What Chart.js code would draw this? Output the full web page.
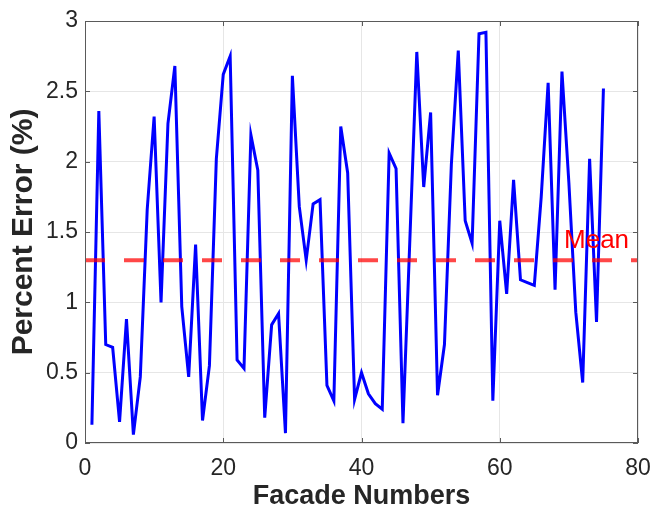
<!DOCTYPE html>
<html>
<head>
<meta charset="utf-8">
<script src="https://cdn.jsdelivr.net/npm/chart.js@4/dist/chart.umd.min.js"></script>
<style>
  html, body { margin: 0; padding: 0; background: #fff; }
  canvas { display: block; }
</style>
</head>
<body>
<canvas id="grafico" width="654" height="513"></canvas>
<script>
const facadeNumbers = [
  1, 2, 3, 4, 5, 6, 7, 8, 9, 10, 11, 12, 13, 14, 15, 16, 17, 18, 19, 20,
  21, 22, 23, 24, 25, 26, 27, 28, 29, 30, 31, 32, 33, 34, 35, 36, 37, 38, 39, 40,
  41, 42, 43, 44, 45, 46, 47, 48, 49, 50, 51, 52, 53, 54, 55, 56, 57, 58, 59, 60,
  61, 62, 63, 64, 65, 66, 67, 68, 69, 70, 71, 72, 73, 74, 75,
];
const percentError = [
  0.13, 2.36, 0.70, 0.68, 0.15, 0.88, 0.06, 0.47, 1.66, 2.32,
  1.00, 2.27, 2.68, 0.97, 0.47, 1.41, 0.16, 0.55, 2.02, 2.62,
  2.75, 0.59, 0.53, 2.19, 1.94, 0.18, 0.84, 0.92, 0.07, 2.61,
  1.68, 1.30, 1.70, 1.73, 0.41, 0.30, 2.25, 1.92, 0.31, 0.50,
  0.35, 0.28, 0.24, 2.06, 1.95, 0.14, 1.45, 2.78, 1.82, 2.35,
  0.34, 0.70, 1.98, 2.79, 1.58, 1.42, 2.91, 2.92, 0.30, 1.58,
  1.06, 1.87, 1.16, 1.14, 1.12, 1.75, 2.56, 1.09, 2.64, 1.85,
  0.93, 0.43, 2.02, 0.86, 2.52,
];
const meanError = 1.3;
const meanRange = [0, 80];
const meanLabel = "Mean";
const meanLabelAt = [69.3, 1.44];
const xTicks = [0, 20, 40, 60, 80];
const yTicks = [0, 0.5, 1, 1.5, 2, 2.5, 3];

const colorTexto = "#262626";

// caja de ejes con marcas hacia dentro, como en MATLAB
const marcoEjes = {
  id: "marcoEjes",
  afterDatasetsDraw(chart) {
    const { ctx, chartArea: a, scales } = chart;
    ctx.save();
    ctx.strokeStyle = "#5a5a5a";
    ctx.lineWidth = 1;
    ctx.strokeRect(a.left + 0.5, a.top + 0.5, a.right - a.left - 1, a.bottom - a.top - 1);
    ctx.beginPath();
    xTicks.forEach(v => {
      const px = Math.round(scales.x.getPixelForValue(v)) + 0.5;
      ctx.moveTo(px, a.bottom);
      ctx.lineTo(px, a.bottom - 5);
      ctx.moveTo(px, a.top);
      ctx.lineTo(px, a.top + 5);
    });
    yTicks.forEach(v => {
      const py = Math.round(scales.y.getPixelForValue(v)) + 0.5;
      ctx.moveTo(a.left, py);
      ctx.lineTo(a.left + 5, py);
      ctx.moveTo(a.right, py);
      ctx.lineTo(a.right - 5, py);
    });
    ctx.stroke();

    ctx.fillStyle = "#ff0000";
    ctx.font = "26px 'Liberation Sans', Arial, sans-serif";
    ctx.textAlign = "left";
    ctx.textBaseline = "middle";
    ctx.fillText(
      meanLabel,
      scales.x.getPixelForValue(meanLabelAt[0]),
      scales.y.getPixelForValue(meanLabelAt[1])
    );
    ctx.restore();
  },
};

function createChart() {
  Chart.defaults.font.family = "'Liberation Sans', Arial, sans-serif";
  Chart.defaults.color = colorTexto;

  const ctx = document.getElementById("grafico").getContext("2d");
  new Chart(ctx, {
    type: "line",
    data: {
      datasets: [
        {
          data: facadeNumbers.map((x, i) => ({ x: x, y: percentError[i] })),
          borderColor: "#0000ff",
          borderWidth: 3,
          pointRadius: 0,
          tension: 0,
          order: 1,
        },
        {
          data: meanRange.map(x => ({ x: x, y: meanError })),
          borderColor: "rgba(255, 0, 0, 0.72)",
          borderWidth: 4,
          borderDash: [20, 19],
          pointRadius: 0,
          order: 0,
        },
      ],
    },
    options: {
      responsive: false,
      animation: false,
      layout: {
        padding: { top: 21, right: 16, left: 0, bottom: 0 },
      },
      scales: {
        x: {
          type: "linear",
          min: 0,
          max: 80,
          afterBuildTicks: s => { s.ticks = xTicks.map(v => ({ value: v })); },
          afterFit: s => {
            s.height = 70;
            s.paddingLeft = 0;
            s.paddingRight = 0;
          },
          grid: { color: "#e6e6e6", drawTicks: false },
          border: { display: false },
          ticks: {
            padding: 12,
            font: { size: 23 },
            color: colorTexto,
            callback: v => String(v),
          },
          title: {
            display: true,
            text: "Facade Numbers",
            color: colorTexto,
            font: { size: 27, weight: "bold" },
            padding: { top: 0, bottom: 0 },
          },
        },
        y: {
          min: 0,
          max: 3,
          afterBuildTicks: s => { s.ticks = yTicks.map(v => ({ value: v })); },
          afterFit: s => { s.width = 85; },
          grid: { color: "#e6e6e6", drawTicks: false },
          border: { display: false },
          ticks: {
            padding: 7,
            font: { size: 23 },
            color: colorTexto,
            callback: v => String(v),
          },
          title: {
            display: true,
            text: "Percent Error (%)",
            color: colorTexto,
            font: { size: 30, weight: "bold" },
            padding: { top: 6, bottom: 0 },
          },
        },
      },
      plugins: {
        legend: { display: false },
        tooltip: { enabled: false },
      },
    },
    plugins: [marcoEjes],
  });
}

createChart();
</script>
</body>
</html>
